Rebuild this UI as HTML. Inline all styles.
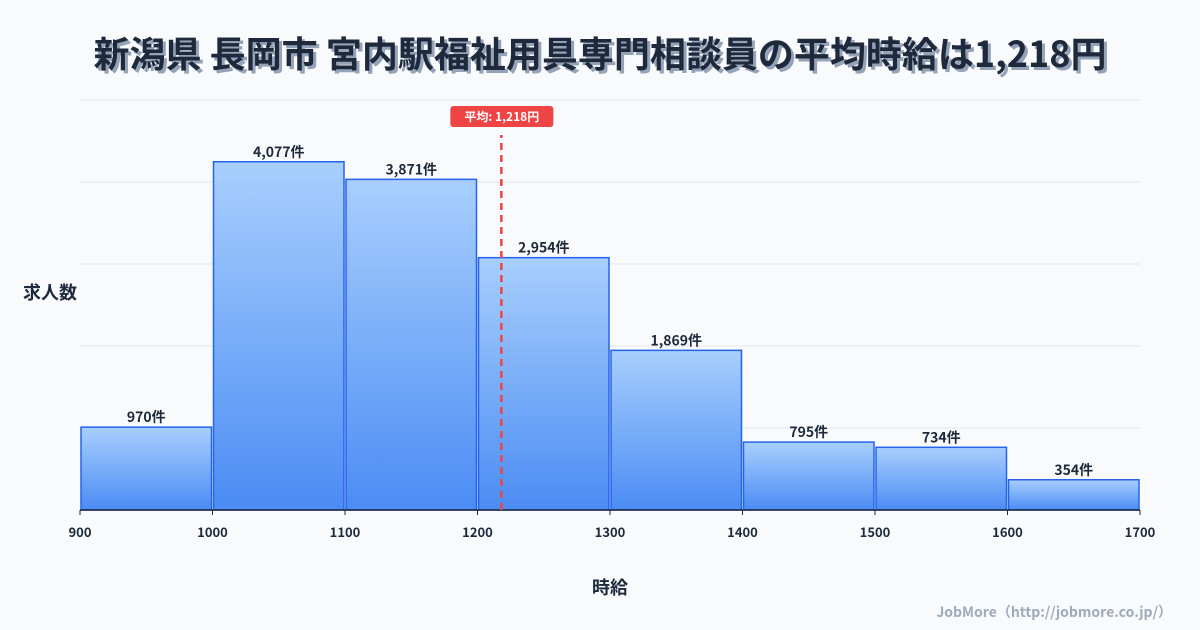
<!DOCTYPE html>
<html><head><meta charset="utf-8"><style>
body{margin:0;background:#f8fafc;font-family:"Noto Sans CJK JP","Liberation Sans",sans-serif;}
#wrap{position:relative;width:1200px;height:630px;overflow:hidden;background:#f8fafc}
</style></head><body>
<div id="wrap">
<svg id="svg" width="1200" height="630" xmlns="http://www.w3.org/2000/svg" font-family="Noto Sans CJK JP, Liberation Sans, sans-serif">
<defs><linearGradient id="g" x1="0" y1="0" x2="0" y2="1"><stop offset="0" stop-color="#a8cffd"/><stop offset="1" stop-color="#4b8cf4"/></linearGradient></defs>
<text x="600" y="67" text-anchor="middle" font-size="36" font-weight="bold" fill="#94a3b8" transform="translate(3,3)">新潟県 長岡市 宮内駅福祉用具専門相談員の平均時給は1,218円</text>
<text x="600" y="67" text-anchor="middle" font-size="36" font-weight="bold" fill="#1e293b">新潟県 長岡市 宮内駅福祉用具専門相談員の平均時給は1,218円</text>
<g id="grid"></g><g id="bars"></g><g id="xt"></g>
<text x="50" y="299" text-anchor="middle" font-size="18" font-weight="bold" fill="#1e293b">求人数</text>
<text x="610" y="594" text-anchor="middle" font-size="18" font-weight="bold" fill="#1e293b">時給</text>
<text x="1172" y="617" text-anchor="end" font-size="14" font-weight="bold" fill="#a0aab8">JobMore（http://jobmore.co.jp/）</text>
</svg></div>
<script>
const binStarts=[900,1000,1100,1200,1300,1400,1500,1600];
const counts=[970,4077,3871,2954,1869,795,734,354];
const countLabels=["970件","4,077件","3,871件","2,954件","1,869件","795件","734件","354件"];
const xTicks=[900,1000,1100,1200,1300,1400,1500,1600,1700];
const binWidth=100;
const meanValue=1218;
const meanLabel="平均: 1,218円";
const yMax=4800, yGridStep=960;
const X0=80,X1=1140,Y0=510,Y1=100,xMin=900,xMax=1700;
const sx=v=>X0+(v-xMin)/(xMax-xMin)*(X1-X0);
const sy=v=>Y0-v/yMax*(Y0-Y1);
const NS="http://www.w3.org/2000/svg";
function mk(tag,attrs,parent,txt){const e=document.createElementNS(NS,tag);for(const k in attrs)e.setAttribute(k,attrs[k]);if(txt!==undefined)e.textContent=txt;parent.appendChild(e);return e;}
const grid=document.getElementById('grid'),bars=document.getElementById('bars'),xt=document.getElementById('xt');
for(let v=yGridStep;v<=yMax;v+=yGridStep){const l=mk('line',{x1:X0,x2:X1,y1:sy(v),y2:sy(v),stroke:'#e2e8f0','stroke-width':1},grid);

}
counts.forEach((c,i)=>{const x=sx(binStarts[i])+1,w=sx(binStarts[i]+binWidth)-sx(binStarts[i])-2;
const r=mk('rect',{x:x,y:sy(c),width:w,height:Y0-sy(c),fill:'url(#g)',stroke:'#2563eb','stroke-width':1.5},bars);


const t=mk('text',{x:x+w/2,y:sy(c)-5,'text-anchor':'middle','font-size':14,'font-weight':'bold',fill:'#1e293b'},bars,countLabels[i]);

});
const ax=mk('line',{x1:X0,x2:X1,y1:Y0,y2:Y0,stroke:'#1e293b','stroke-width':1.5},xt);


xTicks.forEach(v=>{const tk=mk('line',{x1:sx(v),x2:sx(v),y1:Y0,y2:Y0+5,stroke:'#1e293b'},xt);


const t=mk('text',{x:sx(v),y:Y0+27,'text-anchor':'middle','font-size':13,'font-weight':'bold',fill:'#1e293b'},xt,String(v));

});
const mx=sx(meanValue);
const ml=mk('line',{x1:mx,x2:mx,y1:Y0,y2:135,stroke:'#ef4444','stroke-width':2.5,'stroke-dasharray':'7,5'},xt);


const mb=mk('rect',{x:mx-51,y:106,width:103,height:21,rx:3,fill:'#ef4444'},xt);


const mt=mk('text',{x:mx+0.5,y:121,'text-anchor':'middle','font-size':12,'font-weight':'bold',fill:'#fff'},xt,meanLabel);


</script></body></html>
